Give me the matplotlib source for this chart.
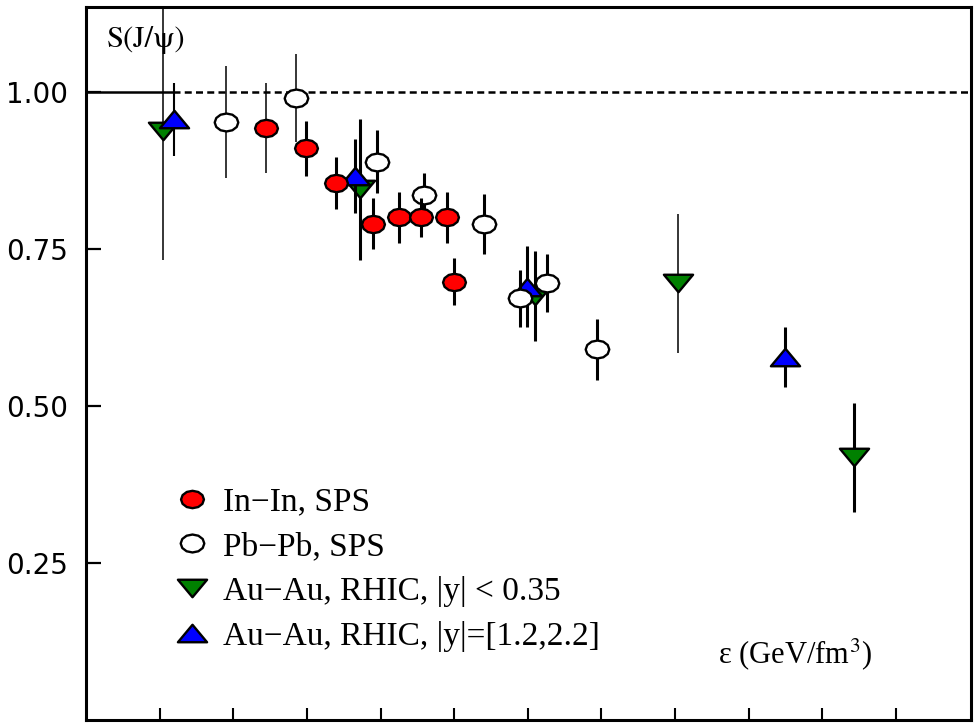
import numpy as np
import matplotlib

matplotlib.use("Agg")
import matplotlib.pyplot as plt
from matplotlib.path import Path

plt.rcParams["mathtext.fontset"] = "stix"

# J/psi survival probability vs energy density
inin_x = [2.45, 2.99, 3.40, 3.90, 4.25, 4.55, 4.90, 5.00]
inin_y = [0.942, 0.910, 0.855, 0.790, 0.800, 0.800, 0.800, 0.698]
inin_err = [0.072, 0.044, 0.042, 0.041, 0.040, 0.031, 0.040, 0.038]

pbpb_x = [1.90, 2.85, 3.95, 4.59, 5.41, 5.90, 6.26, 6.94]
pbpb_y = [0.952, 0.990, 0.889, 0.835, 0.790, 0.671, 0.696, 0.590]
pbpb_err = [0.089, 0.070, 0.050, 0.036, 0.048, 0.045, 0.046, 0.048]

auau_mid_x = [1.05, 3.72, 6.10, 8.04, 10.43]
auau_mid_y = [0.938, 0.845, 0.675, 0.695, 0.418]
auau_mid_err = [0.205, 0.112, 0.072, 0.111, 0.087]

auau_fwd_x = [1.20, 3.65, 5.99, 9.50]
auau_fwd_y = [0.956, 0.866, 0.690, 0.578]
auau_fwd_err = [0.058, 0.059, 0.065, 0.048]

y_ticks = [0.25, 0.50, 0.75, 1.00]
x_ticks = [1, 2, 3, 4, 5, 6, 7, 8, 9, 10, 11]

THIN, THICK = 1.1, 2.2

# squashed marker shapes
t = np.linspace(0, 2 * np.pi, 13)
ELLIPSE = Path(np.column_stack([np.cos(t), 0.76 * np.sin(t)]), closed=True)
TRI_UP = Path([(-1, -0.6), (1, -0.6), (0, 0.6), (-1, -0.6)], closed=True)
TRI_DOWN = Path([(-1, 0.6), (1, 0.6), (0, -0.6), (-1, 0.6)], closed=True)

SERIF = "Liberation Serif"

fig = plt.figure(figsize=(9.74, 7.23), dpi=100)
ax = fig.add_axes([86 / 974, 3 / 723, 885 / 974, 713 / 723])
ax.set_xlim(0, 12.02)
ax.set_ylim(0, 1.135)

# reference line at S = 1
ax.axhline(1.0, xmax=0.098, color="black", linewidth=1.8, zorder=1)
ax.axhline(1.0, xmin=0.098, color="black", linewidth=1.8, dashes=(2.8, 1.7),
           zorder=1)

series = [
    (auau_mid_x, auau_mid_y, auau_mid_err, TRI_DOWN, "#008000", 21,
     [THIN, THICK, THICK, THIN, THICK], "Au\u2212Au, RHIC, |y| < 0.35"),
    (auau_fwd_x, auau_fwd_y, auau_fwd_err, TRI_UP, "#0000ff", 21,
     [1.5, THICK, THICK, THICK], "Au\u2212Au, RHIC, |y|=[1.2,2.2]"),
    (pbpb_x, pbpb_y, pbpb_err, ELLIPSE, "white", 17,
     [THIN, THIN] + [THICK] * 6, "Pb\u2212Pb, SPS"),
    (inin_x, inin_y, inin_err, ELLIPSE, "#ff0000", 16.5,
     [THIN] + [THICK] * 7, "In\u2212In, SPS"),
]

handles = {}
for i, (xs, ys, es, mk, col, ms, lws, lab) in enumerate(series):
    xs, ys, es = np.array(xs), np.array(ys), np.array(es)
    ax.vlines(xs, ys - es, ys + es, colors="black", linewidths=lws,
              zorder=2 + i, clip_on=True)
    h, = ax.plot(xs, ys, linestyle="none", marker=mk, markersize=ms,
                 markerfacecolor=col, markeredgecolor="black",
                 markeredgewidth=1.7, zorder=3 + i, label=lab)
    handles[lab] = h

order = ["In\u2212In, SPS", "Pb\u2212Pb, SPS",
         "Au\u2212Au, RHIC, |y| < 0.35", "Au\u2212Au, RHIC, |y|=[1.2,2.2]"]
ax.legend([handles[k] for k in order], order, loc="upper left",
          bbox_to_anchor=(0.101, 0.327), frameon=False, numpoints=1,
          handlelength=1.0, handletextpad=0.42, labelspacing=0.42,
          borderpad=0, borderaxespad=0,
          prop={"family": SERIF, "size": 24})

ax.text(0.023, 0.954, "S(J/\u03c8)", transform=ax.transAxes, ha="left",
        va="center", fontsize=22, family="STIXGeneral")
ax.text(0.714, 0.08, "\u03b5 (GeV/fm$^{3}$)", transform=ax.transAxes,
        ha="left", va="baseline", fontsize=22, family=SERIF)

ax.set_yticks(y_ticks)
ax.set_yticklabels([f"{v:.2f}" for v in y_ticks], family="DejaVu Sans",
                   fontsize=20)
ax.set_xticks(x_ticks)
ax.set_xticklabels([])
ax.tick_params(axis="y", direction="in", length=11, width=1.6, pad=13)
ax.tick_params(axis="x", direction="in", length=8.6, width=1.5)
for s in ax.spines.values():
    s.set_linewidth(2.2)

fig.savefig("out.png", facecolor="white")
